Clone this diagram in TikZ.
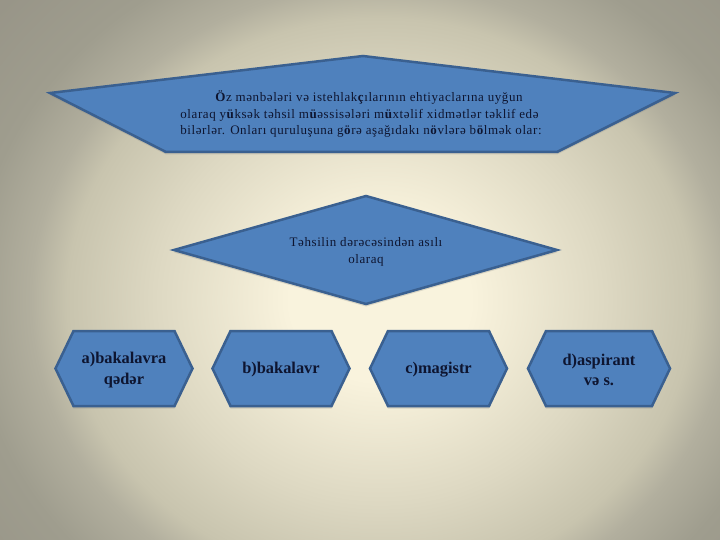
\documentclass[tikz,border=0pt]{standalone}
\usepackage{fontspec}
\setmainfont{Liberation Serif}
\newfontfamily\spacedserif[LetterSpace=4.5]{Liberation Serif}
\usepackage{xcolor}
\definecolor{ShapeBlue}{HTML}{4F81BD}
\definecolor{ShapeEdge}{HTML}{3A6090}
\definecolor{TextNavy}{HTML}{0E1530}
\definecolor{BgIn}{HTML}{F9F3DD}
\definecolor{BgA}{HTML}{DDD8C2}
\definecolor{BgB}{HTML}{C8C4AE}
\definecolor{BgC}{HTML}{B2AF9E}
\definecolor{BgD}{HTML}{9F9D8E}
\definecolor{BgOut}{HTML}{979487}
\usetikzlibrary{shadows}
\pgfdeclareradialshading{slidebg}{\pgfpoint{0bp}{0bp}}{color(0bp)=(BgIn); color(7.5bp)=(BgIn);
  color(18.75bp)=(BgA); color(26bp)=(BgB); color(29bp)=(BgC); color(34bp)=(BgD); color(42.5bp)=(BgOut); color(50bp)=(BgOut)}
\newcommand{\bl}[1]{\textbf{#1}}
\tikzset{
  blueshape/.style={fill=ShapeBlue, draw=ShapeEdge, line width=2.5pt, line join=miter,
    drop shadow={opacity=0.25, shadow xshift=0pt, shadow yshift=-2.5pt}},
  bodytext/.style={text=TextNavy, font=\spacedserif\fontsize{13}{16.3}\selectfont},
  leveltext/.style={text=TextNavy, font=\bfseries\fontsize{16.4}{20.5}\selectfont, align=center}
}

\begin{document}
\begin{tikzpicture}[x=1pt, y=-1pt]
\useasboundingbox (0,0) rectangle (720,540);

% slide background
\begin{scope}
\clip (0,0) rectangle (720,540);
\pgftransformshift{\pgfpoint{380pt}{-300pt}}
\pgftransformxscale{12}
\pgftransformyscale{10.8}
\pgflowlevelsynccm
\pgfuseshading{slidebg}
\end{scope}

% top pentagon
\draw[blueshape] (50,93) coordinate (T1) -- (363,56) coordinate (T2) -- (675,93) coordinate (T3)
  -- (557,152) coordinate (T4) -- (166,152) coordinate (T5) -- cycle;
\node[bodytext, align=left] (intro) at (361,114) {\hspace*{35pt}\bl{Ö}z mənbələri və istehlak\bl{ç}ılarının ehtiyaclarına uyğun\\
olaraq y\bl{ü}ksək təhsil m\bl{ü}əssisələri m\bl{ü}xtəlif xidmətlər təklif edə\\
bilərlər. Onları quruluşuna g\bl{ö}rə aşağıdakı n\bl{ö}vlərə b\bl{ö}lmək olar:};

% diamond
\draw[blueshape] (174,250) coordinate (D1) -- (366,196) coordinate (D2) -- (557,250) coordinate (D3)
  -- (366,304) coordinate (D4) -- cycle;
\node[bodytext, align=center, font=\spacedserif\fontsize{13}{17}\selectfont] (basis) at (366,252) {Təhsilin dərəcəsindən asılı\\olaraq};

% four hexagons
\def\hi{18}
\def\hy{368.5}
\foreach \cx/\w/\name/\txt in {124/137/lvla/{a)bakalavra\\qədər}, 281/137/lvlb/{b)bakalavr},
    438.5/137/lvlc/{c)magistr}, 599/142/lvld/{d)aspirant\\və s.}} {
  \draw[blueshape] (\cx-\w/2, \hy) -- (\cx-\w/2+\hi, \hy-37.5) -- (\cx+\w/2-\hi, \hy-37.5)
    -- (\cx+\w/2, \hy) -- (\cx+\w/2-\hi, \hy+37.5) -- (\cx-\w/2+\hi, \hy+37.5) -- cycle;
  \node[leveltext] (\name) at (\cx, \hy+1.5) {\txt};
}
\end{tikzpicture}
\end{document}
